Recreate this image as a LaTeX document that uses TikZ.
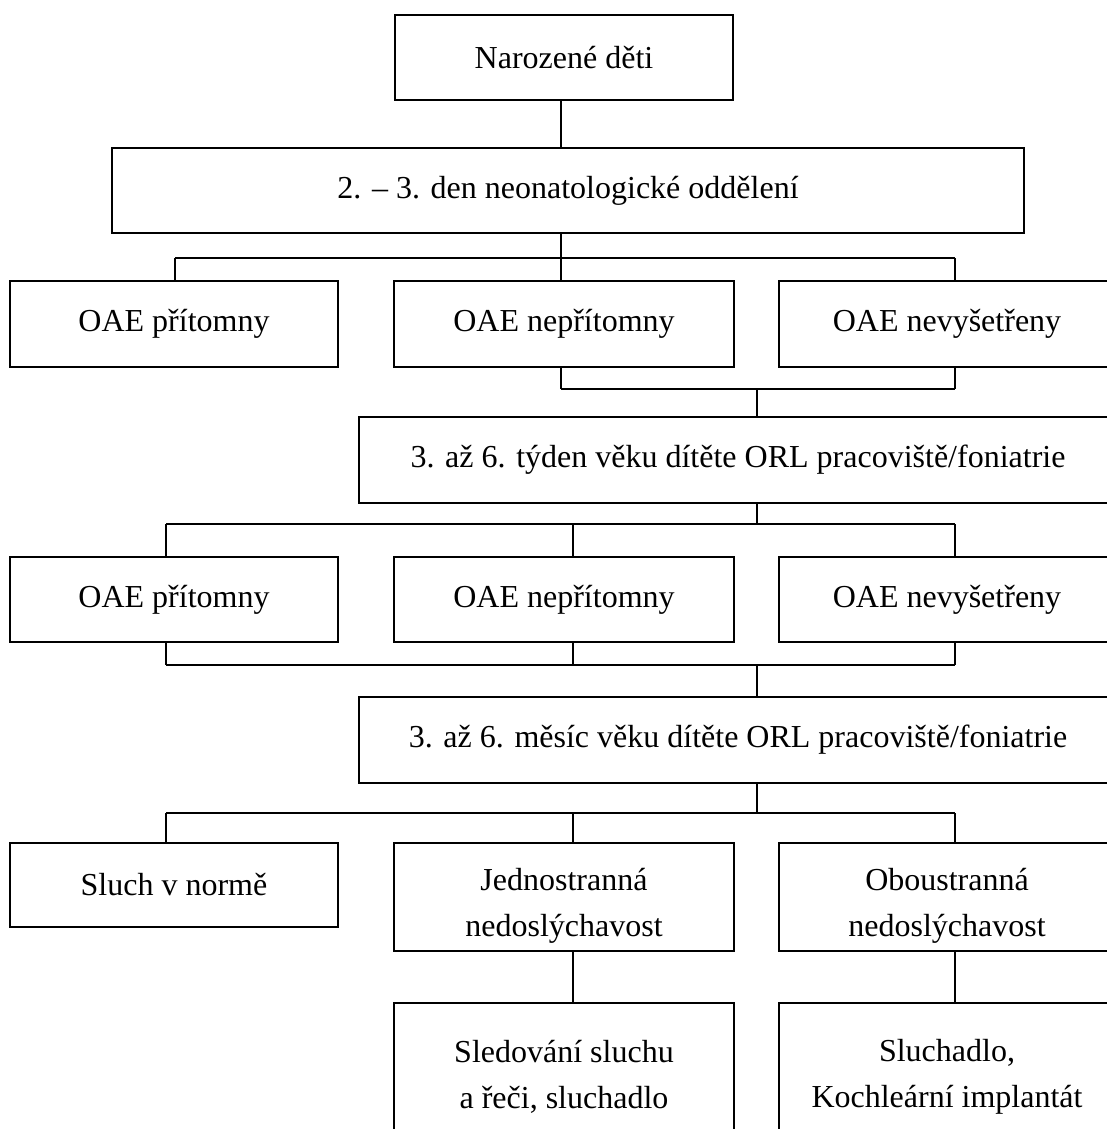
\documentclass[tikz,border=0pt]{standalone}
\usepackage{fontspec}
\setmainfont{Liberation Serif}
\begin{document}
\begin{tikzpicture}[x=1pt,y=-1pt,
  box/.style={draw,line width=2pt,rectangle,inner sep=0pt,align=center,
    font=\fontsize{32}{46}\selectfont},
  txt/.style={inner sep=0pt,align=center,font=\fontsize{32}{46}\selectfont},
  conn/.style={line width=1.3pt},
  bus/.style={line width=2.6pt}]
\useasboundingbox (0,0) rectangle (1107,1129);
\clip (0,0) rectangle (1107,1129);
% boxes
\node[box,minimum width=338pt,minimum height=85pt] (top) at (564,57.5) {Narozené děti};
\node[box,minimum width=912pt,minimum height=85pt] (neo) at (568,190.5) {2. – 3. den neonatologické oddělení};
\node[box,minimum width=328pt,minimum height=86pt] (r1a) at (174,324) {OAE přítomny};
\node[box,minimum width=340pt,minimum height=86pt] (r1b) at (564,324) {OAE nepřítomny};
\node[box,minimum width=336pt,minimum height=86pt] (r1c) at (947,324) {OAE nevyšetřeny};
\node[box,minimum width=758pt,minimum height=86pt] (w6) at (738,460) {3. až 6. týden věku dítěte ORL pracoviště/foniatrie};
\node[box,minimum width=328pt,minimum height=85pt] (r2a) at (174,599.5) {OAE přítomny};
\node[box,minimum width=340pt,minimum height=85pt] (r2b) at (564,599.5) {OAE nepřítomny};
\node[box,minimum width=336pt,minimum height=85pt] (r2c) at (947,599.5) {OAE nevyšetřeny};
\node[box,minimum width=758pt,minimum height=86pt] (m6) at (738,740) {3. až 6. měsíc věku dítěte ORL pracoviště/foniatrie};
\node[box,minimum width=328pt,minimum height=84pt] (r3a) at (174,885) {Sluch v normě};
\node[box,minimum width=340pt,minimum height=108pt] (r3b) at (564,897) {};
\node[txt] (r3bt) at (564,906) {Jednostranná\\nedoslýchavost};
\node[box,minimum width=336pt,minimum height=108pt] (r3c) at (947,897) {};
\node[txt] (r3ct) at (947,906) {Oboustranná\\nedoslýchavost};
\node[box,minimum width=340pt,minimum height=144pt] (r4b) at (564,1075) {};
\node[txt] (r4bt) at (564,1077) {Sledování sluchu\\a řeči, sluchadlo};
\node[box,minimum width=336pt,minimum height=144pt] (r4c) at (947,1075) {};
\node[txt] (r4ct) at (947,1077) {Sluchadlo,\\Kochleární implantát};
% guide coordinates
\coordinate (xA1) at (175,0);
\coordinate (xB1) at (561,0);
\coordinate (xA) at (166,0);
\coordinate (xB) at (573,0);
\coordinate (xC) at (955,0);
\coordinate (xM) at (757,0);
\coordinate (b1) at (0,258);
\coordinate (b2) at (0,389);
\coordinate (b3) at (0,524);
\coordinate (b4) at (0,665);
\coordinate (b5) at (0,813);
% connectors
\draw[conn] (xB1 |- top.south) -- (xB1 |- neo.north);
\draw[conn] (xB1 |- neo.south) -- (xB1 |- r1b.north);
\draw[conn] (xA1 |- r1a.north) -- (xA1 |- b1);
\draw[conn] (xC |- r1c.north) -- (xC |- b1);
\draw[bus] (xA1 |- b1) -- (xC |- b1);
% row1 -> w6
\draw[conn] (xB1 |- r1b.south) -- (xB1 |- b2);
\draw[conn] (xC |- r1c.south) -- (xC |- b2);
\draw[bus] (xB1 |- b2) -- (xC |- b2);
\draw[conn] (xM |- b2) -- (xM |- w6.north);
% w6 -> row2
\draw[conn] (xM |- w6.south) -- (xM |- b3);
\draw[bus] (xA |- b3) -- (xC |- b3);
\draw[bus] (xA |- b3) -- (xA |- r2a.north);
\draw[conn] (xB |- b3) -- (xB |- r2b.north);
\draw[conn] (xC |- b3) -- (xC |- r2c.north);
% row2 -> m6
\draw[bus] (xA |- r2a.south) -- (xA |- b4);
\draw[conn] (xB |- r2b.south) -- (xB |- b4);
\draw[conn] (xC |- r2c.south) -- (xC |- b4);
\draw[bus] (xA |- b4) -- (xC |- b4);
\draw[conn] (xM |- b4) -- (xM |- m6.north);
% m6 -> row3
\draw[conn] (xM |- m6.south) -- (xM |- b5);
\draw[bus] (xA |- b5) -- (xC |- b5);
\draw[bus] (xA |- b5) -- (xA |- r3a.north);
\draw[conn] (xB |- b5) -- (xB |- r3b.north);
\draw[conn] (xC |- b5) -- (xC |- r3c.north);
% row3 -> row4
\draw[conn] (xB |- r3b.south) -- (xB |- r4b.north);
\draw[conn] (xC |- r3c.south) -- (xC |- r4c.north);
\end{tikzpicture}
\end{document}
